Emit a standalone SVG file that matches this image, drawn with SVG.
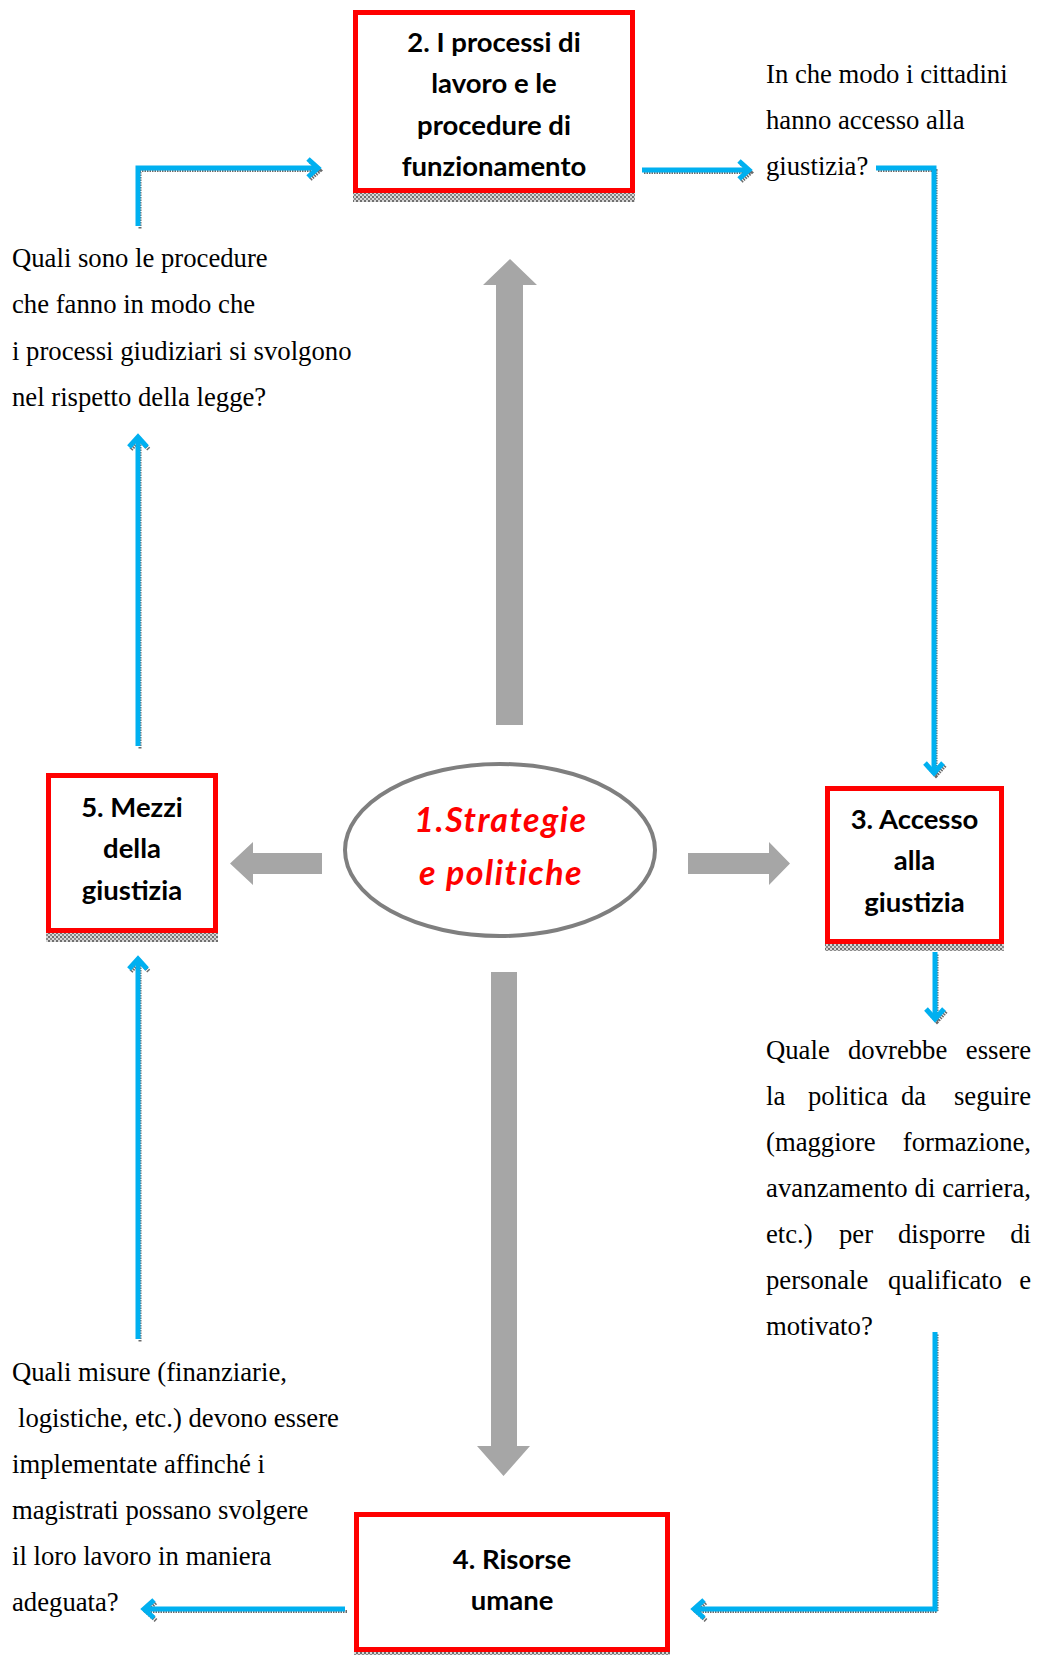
<svg xmlns="http://www.w3.org/2000/svg" width="1040" height="1655" viewBox="0 0 1040 1655">
<defs>
<pattern id="hatch" width="4" height="4" patternUnits="userSpaceOnUse">
<rect width="4" height="4" fill="#d8d8d8"/>
<rect width="2" height="2" fill="#6e6e6e"/>
<rect x="2" y="2" width="2" height="2" fill="#8a8a8a"/>
</pattern>
<marker id="ah" markerUnits="userSpaceOnUse" orient="auto" refX="0" refY="0" markerWidth="30" markerHeight="30" viewBox="-15 -15 30 30" overflow="visible">
<path d="M-10,-9 L0,0 L-10,9" fill="none" stroke="#00b0f0" stroke-width="5" stroke-linejoin="miter"/>
</marker>
<marker id="ahs" markerUnits="userSpaceOnUse" orient="auto" refX="0" refY="0" markerWidth="30" markerHeight="30" viewBox="-15 -15 30 30" overflow="visible">
<path d="M-10,-9 L0,0 L-10,9" fill="none" stroke="#6a6a6a" stroke-width="4" stroke-dasharray="1.5 1"/>
</marker>
</defs>
<style>
.box{fill:#fff;stroke:#ff0000;stroke-width:5}
.shadow{fill:url(#hatch)}
.bt{font-family:Lato,"Open Sans",sans-serif;font-weight:bold;font-size:27.5px;fill:#000;text-anchor:middle}
.q{font-family:"Liberation Serif","Times New Roman",serif;font-size:26.7px;fill:#000}
.qe{font-family:"Liberation Serif","Times New Roman",serif;font-size:26.7px;fill:#000;text-anchor:end}
.blue{fill:none;stroke:#00b0f0;stroke-width:5;marker-end:url(#ah)}
.bsh{fill:none;stroke:#6a6a6a;stroke-width:3;stroke-dasharray:1.5 1;marker-end:url(#ahs)}
.garrow{fill:#a6a6a6}
.st{font-family:Lato,"Open Sans",sans-serif;font-weight:bold;font-style:italic;font-size:34px;letter-spacing:1.5px;fill:#ff0000;text-anchor:middle}
</style>
<rect width="1040" height="1655" fill="#fff"/>

<g id="connectors">
<g transform="translate(2,2.5)">
<path class="bsh" d="M138,226 V168 H318"/>
<path class="bsh" d="M642,170 H749"/>
<path class="bsh" d="M876,168 H934 V773"/>
<path class="bsh" d="M935,952 V1019"/>
<path class="bsh" d="M935,1332 V1609 H694"/>
<path class="bsh" d="M345,1609 H144"/>
<path class="bsh" d="M138,1339 V959"/>
<path class="bsh" d="M138,746 V437"/>
</g>
<path class="blue" d="M138,226 V168 H318"/>
<path class="blue" d="M642,170 H749"/>
<path class="blue" d="M876,168 H934 V773"/>
<path class="blue" d="M935,952 V1019"/>
<path class="blue" d="M935,1332 V1609 H694"/>
<path class="blue" d="M345,1609 H144"/>
<path class="blue" d="M138,1339 V959"/>
<path class="blue" d="M138,746 V437"/>
<polygon class="garrow" points="496,725 496,285 483,285 510,259 537,285 523,285 523,725"/>
<polygon class="garrow" points="491,972 491,1446 477,1446 503.5,1476 530,1446 517,1446 517,972"/>
<polygon class="garrow" points="322,853 253,853 253,842 230,863.5 253,885 253,874 322,874"/>
<polygon class="garrow" points="688,853 769,853 769,842 790,863.5 769,885 769,874 688,874"/>
</g>

<g id="node1">
<ellipse cx="500" cy="850" rx="155" ry="86" fill="#fff" stroke="#7f7f7f" stroke-width="4"/>
<text class="st" x="501" y="832">1.Strategie</text>
<text class="st" x="501" y="885">e politiche</text>
</g>

<g id="node2">
<rect class="shadow" x="353" y="193" width="282" height="9"/>
<rect class="box" x="355.5" y="12.5" width="277" height="178"/>
<text class="bt" x="494" y="52">2. I processi di</text>
<text class="bt" x="494" y="93">lavoro e le</text>
<text class="bt" x="494" y="135">procedure di</text>
<text class="bt" x="494" y="176">funzionamento</text>
</g>

<g id="node3">
<rect class="shadow" x="825" y="943" width="179" height="8"/>
<rect class="box" x="827.5" y="788.5" width="174" height="153"/>
<text class="bt" x="914.5" y="829">3. Accesso</text>
<text class="bt" x="914.5" y="870">alla</text>
<text class="bt" x="914.5" y="912">giustizia</text>
</g>

<g id="node4">
<rect class="shadow" x="354" y="1651" width="316" height="4"/>
<rect class="box" x="356.5" y="1514.5" width="311" height="135"/>
<text class="bt" x="512" y="1569">4. Risorse</text>
<text class="bt" x="512" y="1610">umane</text>
</g>

<g id="node5">
<rect class="shadow" x="46" y="933" width="172" height="9"/>
<rect class="box" x="48.5" y="775.5" width="167" height="155"/>
<text class="bt" x="132" y="817">5. Mezzi</text>
<text class="bt" x="132" y="858">della</text>
<text class="bt" x="132" y="900">giustizia</text>
</g>

<g id="text-top-left">
<text class="q" x="12" y="267">Quali sono le procedure</text>
<text class="q" x="12" y="313">che fanno in modo che</text>
<text class="q" x="12" y="360">i processi giudiziari si svolgono</text>
<text class="q" x="12" y="406">nel rispetto della legge?</text>
</g>

<g id="text-top-right">
<text class="q" x="766" y="83">In che modo i cittadini</text>
<text class="q" x="766" y="129">hanno accesso alla</text>
<text class="q" x="766" y="175">giustizia?</text>
</g>

<g id="text-right">
<text class="q" x="766" y="1059">Quale</text><text class="q" x="848" y="1059">dovrebbe</text><text class="qe" x="1031" y="1059">essere</text>
<text class="q" x="766" y="1105">la</text><text class="q" x="808" y="1105">politica</text><text class="q" x="901" y="1105">da</text><text class="qe" x="1031" y="1105">seguire</text>
<text class="q" x="766" y="1151">(maggiore</text><text class="qe" x="1031" y="1151">formazione,</text>
<text class="q" x="766" y="1197" textLength="265" lengthAdjust="spacing">avanzamento di carriera,</text>
<text class="q" x="766" y="1243">etc.)</text><text class="q" x="839" y="1243">per</text><text class="q" x="898" y="1243">disporre</text><text class="qe" x="1031" y="1243">di</text>
<text class="q" x="766" y="1289">personale</text><text class="q" x="888" y="1289">qualificato</text><text class="qe" x="1031" y="1289">e</text>
<text class="q" x="766" y="1335">motivato?</text>
</g>

<g id="text-bottom-left">
<text class="q" x="12" y="1381">Quali misure (finanziarie,</text>
<text class="q" x="18" y="1427">logistiche, etc.) devono essere</text>
<text class="q" x="12" y="1473">implementate affinché i</text>
<text class="q" x="12" y="1519">magistrati possano svolgere</text>
<text class="q" x="12" y="1565">il loro lavoro in maniera</text>
<text class="q" x="12" y="1611">adeguata?</text>
</g>
</svg>
